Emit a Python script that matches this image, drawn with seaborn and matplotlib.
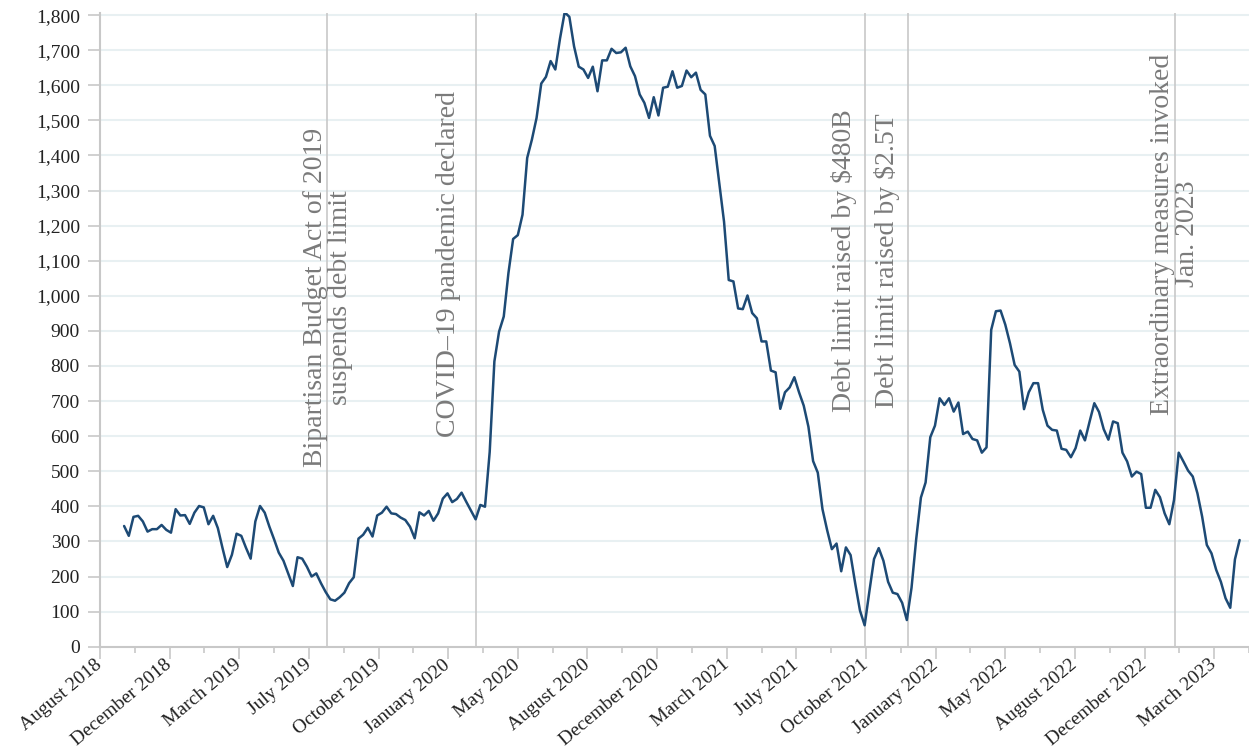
import pandas as pd
import seaborn as sns
import matplotlib.pyplot as plt

# weekly balance (billions of dollars), Wednesdays from early Oct 2018
first_week = '2018-10-03'
balance = [
    344, 316, 370, 373, 357, 328, 335, 335, 347, 333, 325, 392, 374, 375, 350,
    382, 401, 397, 349, 373, 338, 281, 227, 262, 322, 316, 282, 251, 357, 401,
    382, 342, 306, 268, 245, 209, 173, 255, 251, 228, 200, 209, 181, 156, 135,
    131, 141, 154, 181, 198, 308, 319, 339, 314, 374, 382, 399,
    380, 378, 368, 361, 342, 309, 383, 374, 387, 359, 380, 422, 437, 412, 421,
    439, 413, 388, 363, 404, 399,
    555, 813, 898, 941, 1065, 1162, 1173, 1231, 1393, 1445, 1507, 1605, 1624,
    1669, 1645, 1733, 1808, 1795, 1711, 1653, 1645, 1621, 1653, 1583, 1671,
    1671, 1704, 1692, 1694, 1707, 1654, 1626, 1574, 1550, 1507, 1566, 1514,
    1593, 1596, 1640, 1593, 1598, 1642, 1623, 1636, 1587, 1574, 1456, 1427,
    1320, 1211, 1045, 1041, 964, 962, 1001, 951, 936, 870, 870, 787, 782, 678,
    725, 739, 768, 725, 687, 627, 529, 496, 392, 332, 278, 294, 215, 283, 261,
    179, 103, 61, 157, 250, 281, 245, 185, 154, 150, 125, 76, 168, 307, 425,
    468, 597, 630,
    708, 689, 708, 670, 696, 606, 613, 592, 588, 553, 568, 903, 956, 958, 918,
    865, 803, 784, 677, 725, 751, 751, 675, 630, 618, 616, 564, 561, 540, 566,
    616, 588, 642, 694, 669, 620, 590, 642, 637, 553, 528, 485, 499, 492, 396,
    396, 447, 426, 380, 349, 418, 553, 528, 502, 485, 437, 371, 290, 266, 219,
    185, 138, 111, 249, 304,
]

tick_labels = [
    'August 2018', 'December 2018', 'March 2019', 'July 2019', 'October 2019',
    'January 2020', 'May 2020', 'August 2020', 'December 2020', 'March 2021',
    'July 2021', 'October 2021', 'January 2022', 'May 2022', 'August 2022',
    'December 2022', 'March 2023',
]

event_dates = ['2019-08-02', '2020-03-11', '2021-10-14', '2021-12-16', '2023-01-19']
event_labels = [
    'Bipartisan Budget Act of 2019\nsuspends debt limit',
    'COVID\u201319 pandemic declared',
    'Debt limit raised by $480B',
    'Debt limit raised by $2.5T',
    'Extraordinary measures invoked\nJan. 2023',
]

df = pd.DataFrame({
    'date': pd.date_range(first_week, periods=len(balance), freq='7D'),
    'balance': balance,
})

sns.set_theme(style='white')
plt.rcParams['font.family'] = ['Liberation Serif', 'DejaVu Serif']

fig = plt.figure(figsize=(12.49, 7.5), dpi=100)
ax = fig.add_axes([0.08006, 0.13773, 0.91994, 0.84493])

grid_col = '#e8f0f2'
axis_col = '#c8c8c8'
for v in range(100, 1801, 100):
    ax.axhline(v, color=grid_col, lw=1.5, zorder=0)

for d in event_dates:
    ax.axvline(pd.Timestamp(d), color=axis_col, lw=1.2, zorder=1)

sns.lineplot(data=df, x='date', y='balance', ax=ax, color='#1d4a75',
             lw=1.8, zorder=3)

# event annotations, rotated
ann = dict(rotation=90, color='#7a7a7a', fontsize=20, va='bottom',
           textcoords='offset pixels', linespacing=1.0, zorder=2)
ax.annotate(event_labels[0], (pd.Timestamp(event_dates[0]), 511), xytext=(1, 0),
            ha='center', multialignment='center', **ann)
ax.annotate(event_labels[1], (pd.Timestamp(event_dates[1]), 599), xytext=(-15, 0),
            ha='right', **ann)
ax.annotate(event_labels[2], (pd.Timestamp(event_dates[2]), 670), xytext=(-8, 0),
            ha='right', **ann)
ax.annotate(event_labels[3], (pd.Timestamp(event_dates[3]), 681), xytext=(-8, 0),
            ha='right', **ann)
ax.annotate(event_labels[4], (pd.Timestamp(event_dates[4]), 661), xytext=(0, 0),
            ha='center', multialignment='center', **ann)

# x axis: evenly spaced ticks, every other one labelled
tick0 = pd.Timestamp('2018-08-28')
step = pd.Timedelta(days=104)
major = [tick0 + step * k for k in range(len(tick_labels))]
minor = [tick0 + step * (k + 0.5) for k in range(len(tick_labels))]
ax.set_xlim(tick0, tick0 + pd.Timedelta(days=1697))
ax.set_xticks(major)
ax.set_xticks(minor, minor=True)
ax.set_xticklabels(tick_labels, rotation=40, ha='right', va='center',
                   rotation_mode='anchor')

ax.set_ylim(0, 1806)
ax.set_yticks(range(0, 1801, 100))
ax.set_yticklabels([f'{v:,}' for v in range(0, 1801, 100)])

ax.tick_params(axis='both', which='major', length=8.5, width=1.2, color=axis_col,
               labelsize=14, labelcolor='#222222', bottom=True, left=True)
ax.tick_params(axis='x', which='minor', length=4.5, width=1.2, color=axis_col,
               bottom=True)
ax.tick_params(axis='x', which='major', pad=3)
ax.tick_params(axis='y', pad=6)

for side in ['top', 'right']:
    ax.spines[side].set_visible(False)
for side in ['left', 'bottom']:
    ax.spines[side].set_color(axis_col)
    ax.spines[side].set_linewidth(1.5)

ax.set_xlabel('')
ax.set_ylabel('')

fig.savefig('out.png', dpi=100)
